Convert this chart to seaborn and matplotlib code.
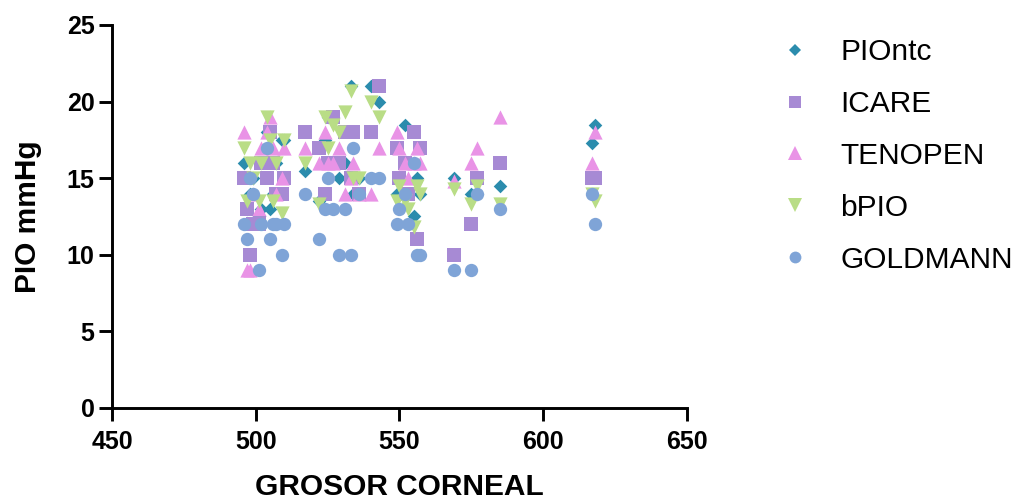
import matplotlib
matplotlib.use("Agg")
import matplotlib.pyplot as plt
import pandas as pd
import seaborn as sns
from matplotlib.lines import Line2D

# Corneal thickness per subject (µm)
grosor = [496, 497, 498, 499, 501, 502, 504, 505, 506, 507, 509, 510,
          517, 522, 524, 525, 527, 529, 531, 533, 534, 536, 540, 543,
          549, 550, 552, 553, 555, 556, 557, 569, 575, 577, 585, 617, 618]

# Intraocular pressure (mmHg) per instrument, same subject order
piontc = [16, 13, 14, 15, 12.5, 13, 18, 13, 14, 16, 17.5, 17.5,
          15.5, 13.5, 17.5, 19, 19, 15, 16, 21, 14, 15, 21, 20,
          14, 15, 18.5, 14, 12.5, 15, 14, 15, 14, 14, 14.5, 17.3, 18.5]
icare = [15, 13, 10, 12, 12, 16, 15, 18, 16, 14, 14, 15,
         18, 17, 14, 16, 19, 16, 18, 15, 18, 14, 18, 21,
         17, 15, 16, 14, 18, 11, 17, 10, 12, 15, 16, 15, 15]
tenopen = [18, 9, 9, 14, 13, 17, 18, 19, 17, 14, 15, 17,
           17, 16, 18, 16, 16, 17, 14, 15, 16, 14, 14, 17,
           18, 17, 16, 15, 16, 17, 16, 14.8, 16, 17, 19, 16, 18]
bpio = [17, 13.5, 16, 15, 13.5, 16, 19, 17.5, 13.5, 16, 12.7, 17.5,
        16, 13.3, 19, 17, 18.5, 18, 19.3, 20.7, 15, 15, 20, 19,
        13.5, 14.5, 13.5, 13, 11.8, 14.5, 14, 14.3, 13.3, 14.5, 13.3, 14, 13.5]
goldmann = [12, 11, 15, 14, 9, 12, 17, 11, 12, 12, 10, 12,
            14, 11, 13, 15, 13, 10, 13, 10, 17, 14, 15, 15,
            12, 13, 14, 12, 16, 10, 10, 9, 9, 14, 13, 14, 12]

series_names = ["PIOntc", "ICARE", "TENOPEN", "bPIO", "GOLDMANN"]
series_values = [piontc, icare, tenopen, bpio, goldmann]

palette = {"PIOntc": "#2B8CAD", "ICARE": "#A78AD4", "TENOPEN": "#E993E6",
           "bPIO": "#B9DD86", "GOLDMANN": "#7FA4D7"}
marker_map = {"PIOntc": "D", "ICARE": "s", "TENOPEN": "^",
              "bPIO": "v", "GOLDMANN": "o"}
size_map = {"PIOntc": 48, "ICARE": 92, "TENOPEN": 105,
            "bPIO": 105, "GOLDMANN": 92}
legend_ms = {"PIOntc": 6.4, "ICARE": 9.0, "TENOPEN": 9.5,
             "bPIO": 9.5, "GOLDMANN": 8.5}

df = pd.concat(
    [pd.DataFrame({"grosor": grosor, "pio": vals, "equipo": name})
     for name, vals in zip(series_names, series_values)],
    ignore_index=True)

sns.set_style("ticks")
plt.rcParams["font.family"] = ["Liberation Sans", "DejaVu Sans"]
plt.rcParams.update({"text.color": "black", "axes.labelcolor": "black",
                     "xtick.color": "black", "ytick.color": "black"})

fig = plt.figure(figsize=(10.2, 5.04), dpi=100)
ax = fig.add_axes([0.1098, 0.1905, 0.5637, 0.7599])

for name in series_names:
    sub = df[df["equipo"] == name]
    sns.scatterplot(data=sub, x="grosor", y="pio", ax=ax,
                    color=palette[name], marker=marker_map[name],
                    s=size_map[name], linewidth=0, legend=False,
                    clip_on=False)

ax.set_xlim(450, 650)
ax.set_ylim(0, 25)
ax.set_xticks([450, 500, 550, 600, 650])
ax.set_yticks([0, 5, 10, 15, 20, 25])

for side in ("top", "right"):
    ax.spines[side].set_visible(False)
for side in ("left", "bottom"):
    ax.spines[side].set_linewidth(2.1)
    ax.spines[side].set_color("black")

ax.tick_params(axis="both", direction="out", length=9.5, width=2.1,
               colors="black", labelsize=18)
ax.tick_params(axis="x", pad=6)
ax.tick_params(axis="y", pad=3)
for lab in ax.get_xticklabels() + ax.get_yticklabels():
    lab.set_fontweight("bold")

ax.set_xlabel("GROSOR CORNEAL", fontsize=21.5, fontweight="bold",
              labelpad=14, color="black")
ax.set_ylabel("PIO mmHg", fontsize=21.5, fontweight="bold",
              labelpad=18, color="black")

handles = [Line2D([0], [0], linestyle="none", marker=marker_map[n],
                  markersize=legend_ms[n], markerfacecolor=palette[n],
                  markeredgewidth=0, label=n) for n in series_names]
leg = fig.legend(handles=handles, loc="upper left",
                 bbox_to_anchor=(0.753, 0.948), frameon=False,
                 fontsize=21.5, labelspacing=0.8, handletextpad=1.02,
                 handlelength=1.0, borderaxespad=0)
for t in leg.get_texts():
    t.set_color("black")

fig.savefig("out.png", dpi=100)
